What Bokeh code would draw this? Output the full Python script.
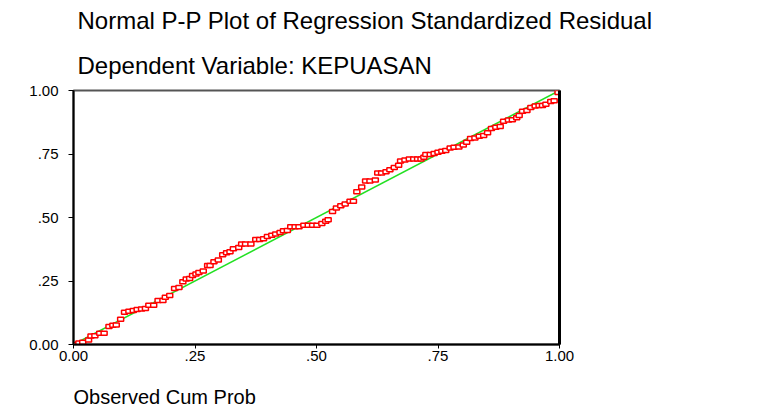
from bokeh.plotting import figure
from bokeh.models import FixedTicker, Title, LinearAxis, Range1d
from bokeh.embed import file_html
from bokeh.resources import INLINE

# Observed cumulative probability (x) and expected cumulative probability (y)
observed_cum_prob = [
    0.003, 0.011, 0.019, 0.031, 0.036, 0.044, 0.054, 0.063, 0.073, 0.081,
    0.088, 0.097, 0.105, 0.114, 0.123, 0.131, 0.140, 0.148, 0.155, 0.165,
    0.174, 0.184, 0.189, 0.198, 0.208, 0.217, 0.225, 0.232, 0.239, 0.245,
    0.252, 0.258, 0.267, 0.276, 0.281, 0.289, 0.298, 0.307, 0.315, 0.322,
    0.329, 0.340, 0.346, 0.354, 0.365, 0.375, 0.383, 0.391, 0.399, 0.408,
    0.416, 0.425, 0.432, 0.440, 0.447, 0.456, 0.464, 0.474, 0.483, 0.492,
    0.501, 0.511, 0.519, 0.524, 0.533, 0.541, 0.550, 0.559, 0.569, 0.576,
    0.583, 0.593, 0.601, 0.610, 0.621, 0.626, 0.634, 0.643, 0.651, 0.660,
    0.669, 0.673, 0.682, 0.691, 0.700, 0.708, 0.715, 0.721, 0.725, 0.734,
    0.742, 0.750, 0.758, 0.766, 0.775, 0.783, 0.793, 0.802, 0.809, 0.817,
    0.826, 0.835, 0.844, 0.852, 0.860, 0.869, 0.878, 0.885, 0.895, 0.903,
    0.912, 0.917, 0.924, 0.933, 0.941, 0.950, 0.958, 0.965, 0.972, 0.982,
    0.989, 0.997,
]
expected_cum_prob = [
    0.000, 0.006, 0.009, 0.018, 0.033, 0.034, 0.044, 0.044, 0.071, 0.076,
    0.077, 0.099, 0.127, 0.131, 0.134, 0.138, 0.140, 0.142, 0.155, 0.155,
    0.173, 0.173, 0.186, 0.193, 0.220, 0.224, 0.247, 0.258, 0.260, 0.272,
    0.278, 0.283, 0.289, 0.311, 0.311, 0.326, 0.333, 0.353, 0.361, 0.365,
    0.377, 0.382, 0.396, 0.396, 0.396, 0.413, 0.413, 0.416, 0.425, 0.430,
    0.435, 0.441, 0.448, 0.449, 0.464, 0.464, 0.464, 0.469, 0.469, 0.469,
    0.469, 0.476, 0.485, 0.491, 0.524, 0.537, 0.546, 0.553, 0.564, 0.564,
    0.601, 0.620, 0.644, 0.644, 0.648, 0.675, 0.675, 0.680, 0.688, 0.697,
    0.706, 0.722, 0.726, 0.730, 0.730, 0.730, 0.730, 0.737, 0.748, 0.748,
    0.752, 0.757, 0.761, 0.764, 0.774, 0.777, 0.778, 0.785, 0.796, 0.811,
    0.813, 0.820, 0.823, 0.834, 0.850, 0.855, 0.858, 0.879, 0.884, 0.885,
    0.893, 0.902, 0.918, 0.921, 0.933, 0.939, 0.941, 0.941, 0.946, 0.957,
    0.960, 0.992,
]

# Reference (identity) line end points
diag_x = [0.0, 1.0]
diag_y = [0.0, 1.0]

tick_values = [0.0, 0.25, 0.5, 0.75, 1.0]
tick_labels = ["0.00", ".25", ".50", ".75", "1.00"]

title_line1 = "Normal P-P Plot of Regression Standardized Residual"
title_line2 = "Dependent Variable: KEPUASAN"
x_label = "Observed Cum Prob"

FONT = "Liberation Sans"

p = figure(
    width=763, height=407,
    output_backend="svg", toolbar_location=None,
    x_range=Range1d(0, 1), y_range=Range1d(0, 1),
    min_border_left=73, min_border_right=204,
    min_border_top=0, min_border_bottom=0,
    background_fill_color="white", border_fill_color="white",
)
p.xgrid.visible = False
p.ygrid.visible = False
p.outline_line_color = "#555555"
p.outline_line_width = 2

overrides = {t: l for t, l in zip(tick_values, tick_labels)}
for ax in (p.xaxis[0], p.yaxis[0]):
    ax.ticker = FixedTicker(ticks=tick_values)
    ax.major_label_overrides = overrides
    ax.axis_line_color = "black"
    ax.axis_line_width = 2
    ax.major_tick_line_color = "black"
    ax.major_tick_line_width = 1
    ax.major_tick_in = 0
    ax.minor_tick_line_color = None
    ax.major_label_text_font = FONT
    ax.major_label_text_font_size = "15px"
    ax.major_label_text_color = "black"

p.yaxis.major_tick_out = 5
p.yaxis.major_label_standoff = 10
p.xaxis.major_tick_out = 4
p.xaxis.major_label_standoff = 2

# spacer between the tick labels and the left-aligned axis title below
xax = p.xaxis[0]
xax.axis_label = " "
xax.axis_label_text_font_size = "1px"
xax.axis_label_standoff = 16

right_axis = LinearAxis(
    ticker=FixedTicker(ticks=[]), axis_line_color="black", axis_line_width=3,
    major_tick_line_color=None, minor_tick_line_color=None,
    major_label_text_font_size="0px",
)
p.add_layout(right_axis, "right")

p.line(diag_x, diag_y, line_color="#22e022", line_width=1.5)
p.rect(observed_cum_prob, expected_cum_prob, width=6, height=4,
       width_units="screen", height_units="screen",
       fill_color="white", line_color="red", line_width=1.5)

# titles: the later one added to "above" sits further from the frame
p.add_layout(Title(text=title_line2, align="left", offset=4, standoff=24,
                   text_font=FONT, text_font_size="24px",
                   text_font_style="normal", text_color="black"), "above")
p.add_layout(Title(text=title_line1, align="left", offset=4, standoff=8,
                   text_font=FONT, text_font_size="24px",
                   text_font_style="normal", text_color="black"), "above")
p.add_layout(Title(text=x_label, align="left", offset=0, standoff=0,
                   text_font=FONT, text_font_size="20px",
                   text_font_style="normal", text_color="black"), "below")

open("out.html", "w").write(file_html(p, INLINE))
